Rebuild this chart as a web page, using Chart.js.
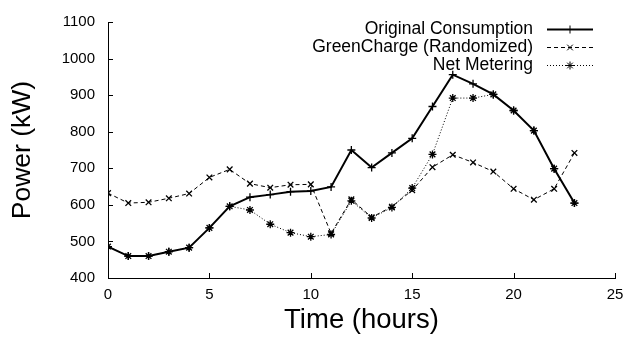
<!DOCTYPE html>
<html>
<head>
<meta charset="utf-8">
<script src="https://cdn.jsdelivr.net/npm/chart.js@4/dist/chart.umd.min.js"></script>
<style>
  html, body { margin:0; padding:0; background:#fff; }
  #c { display:block; }
</style>
</head>
<body>
<canvas id="c" width="628" height="338"></canvas>
<script>
// ============================================================
//  Power consumption over a day – three strategies
// ============================================================

const hours = [0,1,2,3,4,5,6,7,8,9,10,11,12,13,14,15,16,17,18,19,20,21,22,23];

const originalConsumption = [486,460,460,472,483,537,596,621,628,636,638,649,750,702,742,782,869,956,931,902,858,803,699,605];
const greenCharge         = [632,605,607,618,631,675,697,658,647,655,656,522,615,566,595,640,703,737,716,691,644,614,644,742];
const netMetering         = [486,460,460,472,483,537,596,586,547,524,513,519,611,564,593,646,738,892,892,902,858,803,699,605];

const seriesLabels = ['Original Consumption', 'GreenCharge (Randomized)', 'Net Metering'];

const xTicks = [0, 5, 10, 15, 20, 25];
const yTicks = [400, 500, 600, 700, 800, 900, 1000, 1100];

const FONT = "'Liberation Sans', Arial, Helvetica, sans-serif";

const toPoints = vals => hours.map((h, i) => ({ x: h, y: vals[i] }));

// inward tick marks like gnuplot
const innerTicks = {
  id: 'innerTicks',
  afterDraw(chart) {
    const { ctx, chartArea, scales } = chart;
    ctx.save();
    ctx.strokeStyle = '#000';
    ctx.lineWidth = 1;
    ctx.beginPath();
    xTicks.forEach(v => {
      const px = Math.round(scales.x.getPixelForValue(v)) + 0.5;
      ctx.moveTo(px, chartArea.bottom);
      ctx.lineTo(px, chartArea.bottom - 5);
    });
    yTicks.forEach(v => {
      const py = Math.round(scales.y.getPixelForValue(v)) + 0.5;
      ctx.moveTo(chartArea.left, py);
      ctx.lineTo(chartArea.left + 5, py);
    });
    ctx.stroke();
    ctx.restore();
  }
};

// key in the top right, text left of the sample
const keyBox = {
  id: 'keyBox',
  afterDraw(chart) {
    const { ctx, chartArea } = chart;
    const textRight = chartArea.right - 82;
    const lineL = chartArea.right - 68, lineR = chartArea.right - 22;
    ctx.save();
    ctx.font = '17.5px ' + FONT;
    ctx.textAlign = 'right';
    ctx.textBaseline = 'middle';
    chart.data.datasets.forEach((ds, i) => {
      const y = 29 + i * 18;
      ctx.fillStyle = '#000';
      ctx.fillText(ds.label, textRight, y);
      ctx.strokeStyle = ds.borderColor;
      ctx.lineWidth = ds.borderWidth;
      ctx.setLineDash(ds.borderDash || []);
      ctx.beginPath();
      ctx.moveTo(lineL, y + 0.5);
      ctx.lineTo(lineR, y + 0.5);
      ctx.stroke();
      ctx.setLineDash([]);
      ctx.lineWidth = 1;
      Chart.helpers.drawPoint(ctx, { pointStyle: ds.pointStyle, radius: ds.pointRadius, borderWidth: 1 }, (lineL + lineR) / 2, y + 0.5);
    });
    ctx.restore();
  }
};

new Chart(document.getElementById('c'), {
  type: 'line',
  data: {
    datasets: [
      {
        label: seriesLabels[0],
        data: toPoints(originalConsumption),
        borderColor: '#000', borderWidth: 2,
        pointStyle: 'cross', pointRadius: 4,
        pointBorderColor: '#000', pointBorderWidth: 1.3,
      },
      {
        label: seriesLabels[1],
        data: toPoints(greenCharge),
        borderColor: '#000', borderWidth: 1, borderDash: [4, 3],
        pointStyle: 'crossRot', pointRadius: 4,
        pointBorderColor: '#000', pointBorderWidth: 1.3,
      },
      {
        label: seriesLabels[2],
        data: toPoints(netMetering),
        borderColor: '#000', borderWidth: 1, borderDash: [1, 2],
        pointStyle: 'star', pointRadius: 4,
        pointBorderColor: '#000', pointBorderWidth: 1.3,
      },
    ]
  },
  options: {
    responsive: false,
    animation: false,
    devicePixelRatio: 1,
    layout: { padding: { top: 22, right: 13, left: 0, bottom: 0 } },
    plugins: { legend: { display: false }, tooltip: { enabled: false } },
    scales: {
      x: {
        type: 'linear', min: 0, max: 25,
        afterBuildTicks: s => { s.ticks = xTicks.map(v => ({ value: v })); },
        afterFit: s => { s.height = 60; s.paddingLeft = 0; s.paddingRight = 0; },
        grid: { display: false, drawTicks: false },
        border: { display: true, color: '#000', width: 1 },
        ticks: { color: '#000', font: { family: FONT, size: 15 }, padding: 8, maxRotation: 0, callback: v => String(v) },
        title: { display: true, text: 'Time (hours)', color: '#000', font: { family: FONT, size: 27.5 }, padding: { top: 0, bottom: 1 } },
      },
      y: {
        type: 'linear', min: 400, max: 1100,
        afterBuildTicks: s => { s.ticks = yTicks.map(v => ({ value: v })); },
        afterFit: s => { s.width = 108; s.paddingTop = 0; s.paddingBottom = 0; },
        grid: { display: false, drawTicks: false },
        border: { display: true, color: '#000', width: 1 },
        ticks: { color: '#000', font: { family: FONT, size: 15 }, padding: 13, callback: v => String(v) },
        title: { display: true, text: 'Power (kW)', color: '#000', font: { family: FONT, size: 26.5 }, padding: { top: 7, bottom: 0 } },
      }
    }
  },
  plugins: [innerTicks, keyBox]
});
</script>
</body>
</html>
